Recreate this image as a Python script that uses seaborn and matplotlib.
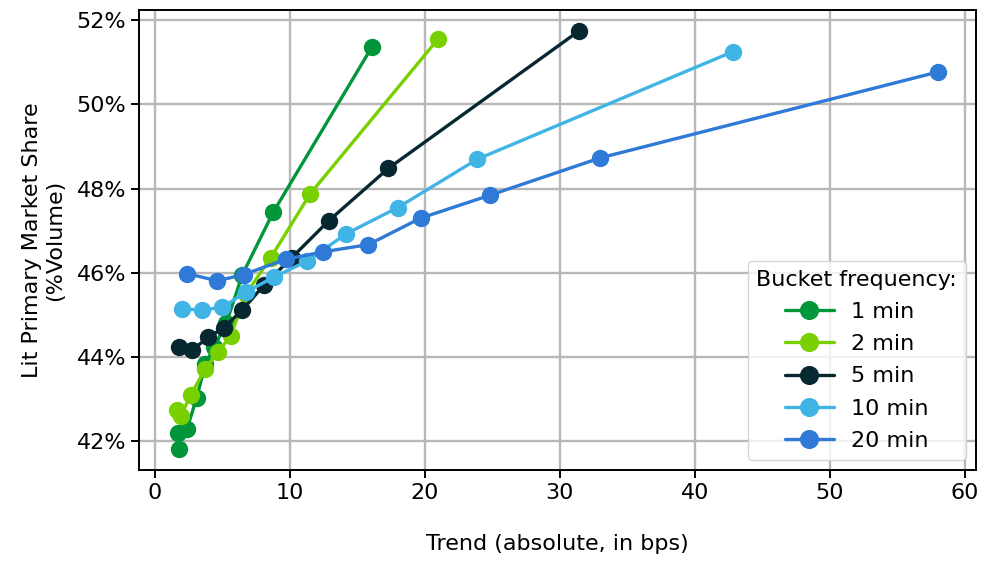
import pandas as pd
import seaborn as sns
import matplotlib.pyplot as plt
from matplotlib.ticker import FuncFormatter

# trend (bps) and lit primary share (%) per bucket
trend_1min = [1.8, 1.7, 2.4, 3.1, 3.76, 4.39, 5.3, 6.5, 8.78, 16.1]
share_1min = [41.82, 42.2, 42.3, 43.02, 43.84, 44.23, 44.8, 45.96, 47.44, 51.37]

trend_2min = [1.68, 1.93, 2.67, 3.73, 4.71, 5.63, 6.74, 8.6, 11.5, 21.0]
share_2min = [42.75, 42.61, 43.09, 43.72, 44.13, 44.5, 45.49, 46.36, 47.87, 51.56]

trend_5min = [1.8, 2.79, 3.97, 5.13, 6.49, 8.1, 10.15, 12.9, 17.3, 31.4]
share_5min = [44.23, 44.17, 44.47, 44.7, 45.12, 45.71, 46.36, 47.24, 48.48, 51.74]

trend_10min = [2.0, 3.53, 5.0, 6.8, 8.84, 11.3, 14.2, 18.0, 23.9, 42.8]
share_10min = [45.14, 45.12, 45.18, 45.55, 45.9, 46.28, 46.93, 47.55, 48.7, 51.25]

trend_20min = [2.42, 4.64, 6.6, 9.7, 12.5, 15.82, 19.7, 24.8, 33.0, 58.0]
share_20min = [45.98, 45.81, 45.96, 46.32, 46.5, 46.67, 47.3, 47.84, 48.73, 50.77]

buckets = ['1 min', '2 min', '5 min', '10 min', '20 min']
colors = ['#009639', '#78D000', '#072830', '#41B4E6', '#2E7AD6']

trends = [trend_1min, trend_2min, trend_5min, trend_10min, trend_20min]
shares = [share_1min, share_2min, share_5min, share_10min, share_20min]

rows = []
for b, xs, ys in zip(buckets, trends, shares):
    for i, (x, y) in enumerate(zip(xs, ys)):
        rows.append({'bucket': b, 'order': i, 'trend': x, 'share': y})
df = pd.DataFrame(rows)

sns.set_style('ticks')
plt.rcParams['font.family'] = ['DejaVu Sans']
plt.rcParams['text.color'] = 'black'
plt.rcParams['axes.labelcolor'] = 'black'
plt.rcParams['xtick.color'] = 'black'
plt.rcParams['ytick.color'] = 'black'

fs = 16

fig = plt.figure(figsize=(9.81, 5.66), dpi=100)
ax = fig.add_axes([0.142, 0.170, 0.853, 0.812])
ax.grid(True, color='#b8b8b8', linewidth=1.7, zorder=0)
ax.set_axisbelow(True)

sns.lineplot(
    data=df, x='trend', y='share', hue='bucket', hue_order=buckets,
    palette=dict(zip(buckets, colors)), marker='o', markersize=12.5,
    markeredgewidth=0, linewidth=2.4, sort=False, ax=ax
)

ax.yaxis.set_major_formatter(FuncFormatter(lambda v, p: f'{v:.0f}%'))
ax.set_xlabel('Trend (absolute, in bps)', fontsize=fs, labelpad=22)
ax.set_ylabel('Lit Primary Market Share\n(%Volume)', fontsize=fs, labelpad=8)
ax.tick_params(labelsize=fs, length=6, width=1.4)
for s in ax.spines.values():
    s.set_color('black')
    s.set_linewidth(1.4)

ax.legend(title='Bucket frequency:', loc='lower right', fontsize=fs,
          title_fontsize=fs, frameon=True, borderaxespad=0.45,
          labelspacing=0.55, handlelength=2.2, markerscale=1.1)

fig.savefig('out.png', dpi=100)
